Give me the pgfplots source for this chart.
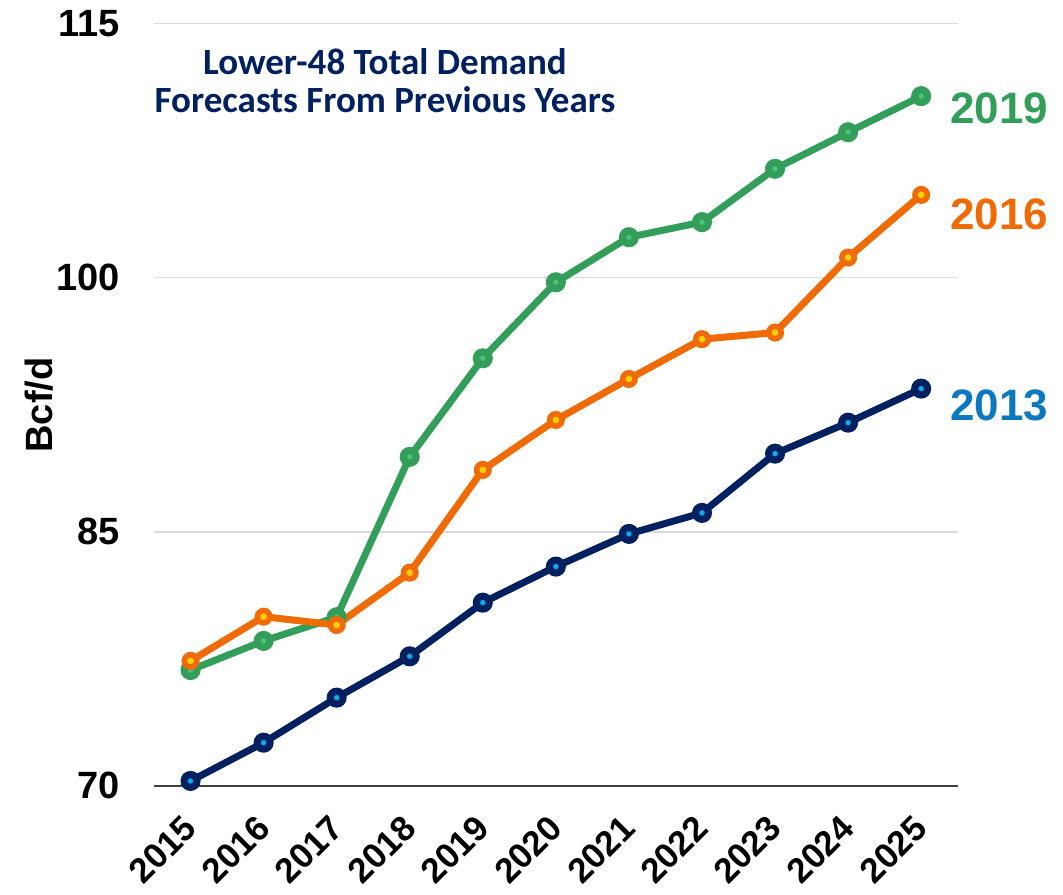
\documentclass[border=0pt]{standalone}
\usepackage{pgfplots}
\pgfplotsset{compat=1.18}
\usepackage{fontspec}
\setmainfont{Liberation Sans}
\newfontfamily\titlefont{Carlito}
\definecolor{cgreen}{HTML}{329E5A}
\definecolor{cgreenin}{HTML}{4CC27A}
\definecolor{corange}{HTML}{F06A05}
\definecolor{corangein}{HTML}{FFD000}
\definecolor{cnavy}{HTML}{002060}
\definecolor{cnavyin}{HTML}{00B0F0}
\definecolor{cblue}{HTML}{0B78C0}
\definecolor{gridc}{HTML}{D9D9D9}
\begin{document}
\begin{tikzpicture}
\useasboundingbox (0,0) rectangle (531.5pt,447pt);
\begin{axis}[
  at={(77pt,54.15pt)}, anchor=south west,
  scale only axis, width=401.85pt, height=381pt,
  xmin=2014.5, xmax=2025.5, ymin=70, ymax=115,
  clip=false,
  axis lines*=left,
  y axis line style={draw=none},
  x axis line style={draw=black!75, line width=1pt},
  major tick length=0pt,
  ymajorgrids, grid style={gridc, line width=0.8pt},
  ytick={70,85,100,115},
  xtick={2015,2016,2017,2018,2019,2020,2021,2022,2023,2024,2025},
  xticklabels={2015,2016,2017,2018,2019,2020,2021,2022,2023,2024,2025},
  /pgf/number format/assume math mode=true,
  yticklabel style={font=\fontsize{19}{19}\selectfont\bfseries, inner sep=0pt, anchor=east},
  yticklabel shift=17pt,
  xticklabel style={font=\fontsize{17.5}{17.5}\selectfont\bfseries, inner sep=0pt, rotate=45, anchor=east},
  xticklabel shift=18pt,
]
\addplot[cgreen, line width=3.5pt, mark=*, mark size=3.2pt,
  mark options={draw=cgreen, fill=cgreenin, line width=3.6pt}]
  coordinates {(2015,76.83) (2016,78.55) (2017,79.95) (2018,89.42) (2019,95.24) (2020,99.73) (2021,102.39) (2022,103.28) (2023,106.43) (2024,108.59) (2025,110.72)};
\addplot[corange, line width=3.5pt, mark=*, mark size=3.1pt,
  mark options={draw=corange, fill=corangein, line width=2.8pt}]
  coordinates {(2015,77.37) (2016,79.98) (2017,79.49) (2018,82.58) (2019,88.65) (2020,91.60) (2021,94.02) (2022,96.37) (2023,96.76) (2024,101.19) (2025,104.89)};
\addplot[cnavy, line width=3.5pt, mark=*, mark size=3.2pt,
  mark options={draw=cnavy, fill=cnavyin, line width=3.6pt}]
  coordinates {(2015,70.28) (2016,72.54) (2017,75.20) (2018,77.64) (2019,80.81) (2020,82.94) (2021,84.87) (2022,86.11) (2023,89.61) (2024,91.44) (2025,93.45)};
\end{axis}
\node[font=\titlefont\bfseries\fontsize{18.5}{19}\selectfont, text=cnavy, align=center, inner sep=0pt] at (192.5pt,406.5pt) {Lower-48 Total Demand\\Forecasts From Previous Years};
\node[font=\fontsize{22}{22}\selectfont\bfseries, text=cgreen, anchor=west, inner sep=0pt] at (475pt,393pt) {2019};
\node[font=\fontsize{22}{22}\selectfont\bfseries, text=corange, anchor=west, inner sep=0pt] at (475pt,340pt) {2016};
\node[font=\fontsize{22}{22}\selectfont\bfseries, text=cblue, anchor=west, inner sep=0pt] at (475pt,244.5pt) {2013};
\node[font=\fontsize{19}{19}\selectfont\bfseries, rotate=90, inner sep=0pt] at (19.5pt,244.5pt) {Bcf/d};
\end{tikzpicture}
\end{document}
